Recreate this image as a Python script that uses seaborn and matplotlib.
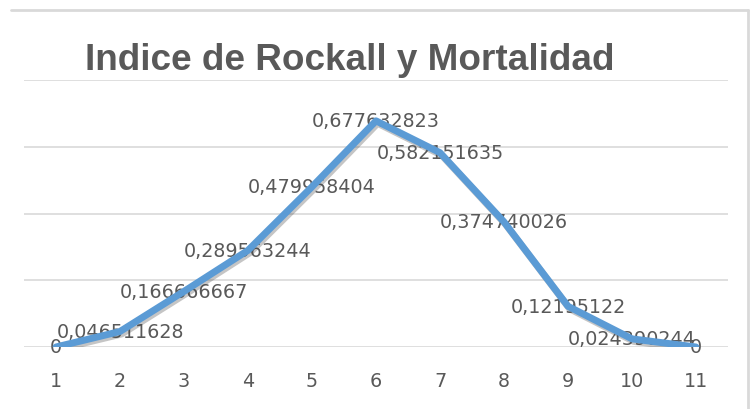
import matplotlib
matplotlib.use("Agg")
import matplotlib.pyplot as plt
import matplotlib.patheffects as pe
from matplotlib.lines import Line2D
import seaborn as sns
import pandas as pd

# ---- data ----
categories = [1, 2, 3, 4, 5, 6, 7, 8, 9, 10, 11]
values = [0, 0.046511628, 0.166666667, 0.289563244, 0.479958404,
          0.677632823, 0.582151635, 0.374740026, 0.12195122,
          0.024390244, 0]
label_texts = ["0", "0,046511628", "0,166666667", "0,289563244", "0,479958404",
               "0,677632823", "0,582151635", "0,374740026", "0,12195122",
               "0,024390244", "0"]
title = "Indice de Rockall y Mortalidad"

df = pd.DataFrame({"x": categories, "y": values})

sns.set_theme(style="white")
plt.rcParams["font.family"] = ["DejaVu Sans"]

W, H = 752, 410
fig = plt.figure(figsize=(W / 100, H / 100), dpi=100)
ax = fig.add_axes([24 / W, 1 - 348 / H, (728 - 24) / W, (348 - 81) / H])

TXT = "#595959"
GRID = "#D9D9D9"
BLUE = "#5B9BD5"

sns.lineplot(data=df, x="x", y="y", ax=ax, color=BLUE, linewidth=5.0,
             zorder=5, solid_joinstyle="round", solid_capstyle="round",
             path_effects=[pe.SimpleLineShadow(offset=(1.2, -1.8), alpha=0.3,
                                               shadow_color="#404040"),
                           pe.Normal()])

ax.set_xlim(0.5, 11.5)
ax.set_ylim(0, 0.8)
ax.set_yticks([0, 0.2, 0.4, 0.6, 0.8])
ax.set_yticklabels([])
ax.yaxis.grid(True, color=GRID, linewidth=1.2)
ax.set_axisbelow(True)
ax.set_xticks(categories)
ax.set_xticklabels([str(c) for c in categories], fontsize=13.8, color=TXT)
ax.tick_params(axis="x", length=0, pad=17)
ax.tick_params(axis="y", length=0)
ax.set_xlabel("")
ax.set_ylabel("")
for s in ax.spines.values():
    s.set_visible(False)

for xv, yv, t in zip(categories, values, label_texts):
    ax.text(xv, yv, t, ha="center", va="center", fontsize=13.8,
            color=TXT, zorder=3)

fig.text(350 / W, 1 - 70 / H, title, ha="center", va="baseline",
         fontsize=26.6, fontweight="bold", color=TXT,
         family=["Liberation Sans", "DejaVu Sans"])

# chart border (top and right visible)
fig.add_artist(Line2D([11 / W, 748 / W], [1 - 11 / H, 1 - 11 / H],
                      transform=fig.transFigure, color=GRID, linewidth=2))
fig.add_artist(Line2D([748 / W, 748 / W], [1 - 11 / H, 0],
                      transform=fig.transFigure, color=GRID, linewidth=2))

fig.savefig("out.png", dpi=100, facecolor="white")
